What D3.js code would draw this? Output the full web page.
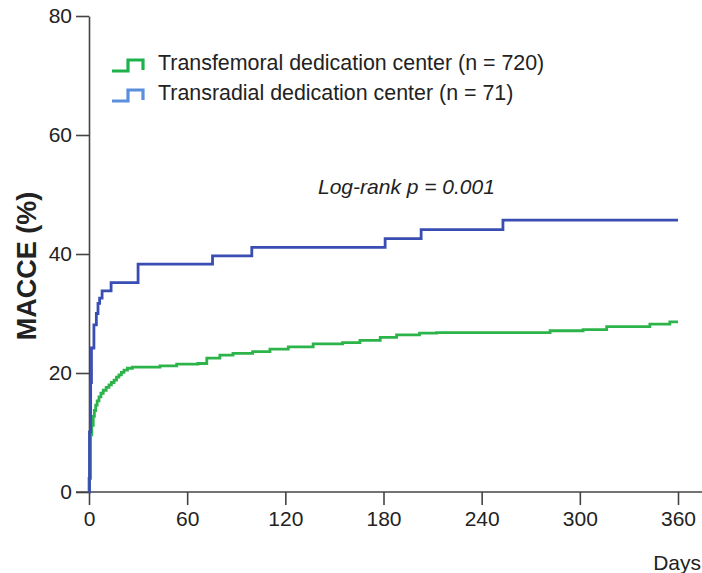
<!DOCTYPE html>
<html>
<head>
<meta charset="utf-8">
<script src="https://cdn.jsdelivr.net/npm/d3@7"></script>
<style>
  body { margin: 0; background: #fff; }
  text { font-family: Arial, "Liberation Sans", sans-serif; fill: #222; }
</style>
</head>
<body>
<svg id="chart" width="702" height="573"></svg>
<script>
// data: [day, MACCE %]
var femoralDays = [0, 0, 1, 1.7, 2.6, 3.3, 4.1, 5, 6.1, 7.3, 8.7, 10.5, 12.2, 13.7, 15.3, 16.8, 18.3, 19.8, 21.4, 23.5, 26.5, 43.4, 53.6, 66.6, 72, 80, 88, 100, 110.6, 121.8, 137, 155, 165.6, 178, 188, 202, 212.5, 281.8, 302, 316.4, 342.8, 355, 360];
var femoralValues = [0, 2.3, 9.6, 11.2, 12.7, 13.7, 14.6, 15.3, 16.0, 16.6, 17.1, 17.6, 18.0, 18.4, 18.8, 19.3, 19.7, 20.1, 20.5, 20.8, 21.0, 21.2, 21.5, 21.6, 22.5, 23.0, 23.3, 23.6, 24.0, 24.4, 24.9, 25.1, 25.5, 26.0, 26.4, 26.7, 26.8, 27.1, 27.3, 27.8, 28.2, 28.6, 28.6];
var radialDays = [0, 0.3, 1, 1.5, 3, 4.5, 5.5, 6.5, 8, 13.5, 30, 75.5, 99.5, 181, 203, 253, 360];
var radialValues = [0, 10.1, 18.4, 24.2, 28.1, 30.0, 31.7, 32.6, 33.8, 35.2, 38.3, 39.7, 41.1, 42.6, 44.1, 45.7, 45.7];

var xTicks = [0, 60, 120, 180, 240, 300, 360];
var yTicks = [0, 20, 40, 60, 80];
var seriesNames = ['Transfemoral dedication center (n = 720)', 'Transradial dedication center (n = 71)'];
var lineColors = ['#2cb44a', '#3a4db3'];
var legendColors = ['#1fb14b', '#5b8edb'];

var svg = d3.select('#chart');
var width = 702;

var x = d3.scaleLinear().domain([0, 360]).range([89, 678]);
var y = d3.scaleLinear().domain([0, 80]).range([492, 16]);

// axes
var yAxis = svg.append('g')
    .attr('transform', 'translate(' + x(0) + ',0)')
    .call(d3.axisLeft(y).tickValues(yTicks).tickSize(13).tickSizeOuter(0).tickPadding(4));
var xAxis = svg.append('g')
    .attr('transform', 'translate(0,' + y(0) + ')')
    .call(d3.axisBottom(x).tickValues(xTicks).tickSize(13).tickSizeOuter(0).tickPadding(6));
xAxis.select('.domain').remove();
svg.append('line')
    .attr('x1', x(0) - 13).attr('x2', width)
    .attr('y1', y(0)).attr('y2', y(0))
    .attr('stroke', '#444').attr('stroke-width', 1.6);

[yAxis, xAxis].forEach(function(g) {
    g.selectAll('.domain, line').attr('stroke', '#444').attr('stroke-width', 1.6);
    g.selectAll('text').attr('font-size', 21).style('fill', '#222');
});

// curves
var line = d3.line()
    .x(function(d) { return x(d[0]); })
    .y(function(d) { return y(d[1]); })
    .curve(d3.curveStepAfter);

var femoral = femoralDays.map(function(d, i) { return [d, femoralValues[i]]; });
var radial = radialDays.map(function(d, i) { return [d, radialValues[i]]; });

svg.append('path')
    .datum(femoral)
    .attr('d', line)
    .attr('fill', 'none')
    .attr('stroke', lineColors[0])
    .attr('stroke-width', 2.8);
svg.append('path')
    .datum(radial)
    .attr('d', line)
    .attr('fill', 'none')
    .attr('stroke', lineColors[1])
    .attr('stroke-width', 2.8);

// axis titles
svg.append('text')
    .attr('transform', 'translate(36,' + y(38) + ') rotate(-90)')
    .attr('text-anchor', 'middle')
    .attr('font-size', 27)
    .attr('font-weight', 'bold')
    .text('MACCE (%)');
svg.append('text')
    .attr('x', 701).attr('y', 570)
    .attr('text-anchor', 'end')
    .attr('font-size', 21)
    .text('Days');

// log-rank
svg.append('text')
    .attr('x', 318).attr('y', 194)
    .attr('font-size', 21)
    .attr('font-style', 'italic')
    .text('Log-rank p = 0.001');

// legend
var legend = svg.append('g');
seriesNames.forEach(function(name, i) {
    var ly = 66 + i * 30;
    var lx = 112;
    legend.append('path')
        .attr('d', 'M' + lx + ',' + (ly + 5) + 'H' + (lx + 16) + 'V' + (ly - 6) + 'H' + (lx + 31) + 'V' + (ly + 4))
        .attr('fill', 'none')
        .attr('stroke', legendColors[i])
        .attr('stroke-width', 3.2);
    legend.append('text')
        .attr('x', 158).attr('y', ly + 4)
        .attr('font-size', 21.4)
        .text(name);
});
</script>
</body>
</html>
